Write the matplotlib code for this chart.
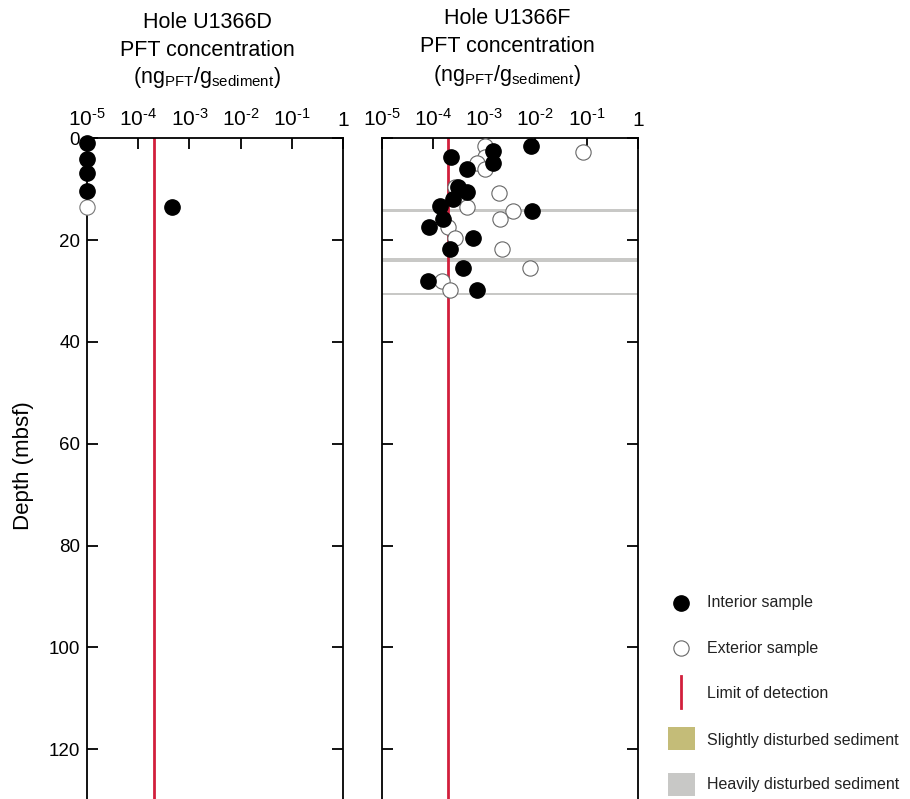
import matplotlib
matplotlib.use('Agg')
import matplotlib.pyplot as plt
from matplotlib.patches import Rectangle
import numpy as np

plt.rcParams['font.family'] = ['Liberation Sans', 'DejaVu Sans']
plt.rcParams['mathtext.fontset'] = 'custom'
plt.rcParams['mathtext.rm'] = 'Liberation Sans'
plt.rcParams['mathtext.it'] = 'Liberation Sans'

LOD = 2e-4
XMIN, XMAX = 1e-5, 1.0
YMAX = 129.8

# Hole U1366D
d_int_depth = [1.0, 4.1, 6.8, 10.3, 13.4]
d_int_conc = [1e-5, 1e-5, 1e-5, 1e-5, 4.5e-4]
d_ext_depth = [13.4]
d_ext_conc = [1e-5]

# Hole U1366F
f_int_depth = [1.5, 2.5, 3.6, 4.9, 6.0, 9.6, 10.6, 12.0, 13.3, 14.2, 15.9, 17.5,
               19.6, 21.8, 25.5, 28.0, 29.9]
f_int_conc = [8.1e-3, 1.5e-3, 2.26e-4, 1.5e-3, 4.7e-4, 3.1e-4, 4.7e-4, 2.5e-4,
              1.38e-4, 8.7e-3, 1.6e-4, 8.4e-5, 6.2e-4, 2.2e-4, 3.9e-4, 8.1e-5, 7.2e-4]
f_ext_depth = [1.45, 2.6, 3.6, 4.8, 6.0, 9.6, 10.7, 13.4, 14.2, 15.9, 17.5, 19.6,
               21.8, 25.5, 28.0, 29.9]
f_ext_conc = [1.05e-3, 8.7e-2, 1.05e-3, 7.4e-4, 1.05e-3, 2.7e-4, 1.95e-3, 4.7e-4,
              3.7e-3, 2.0e-3, 2.0e-4, 2.7e-4, 2.2e-3, 7.9e-3, 1.53e-4, 2.16e-4]

# heavily disturbed intervals (mbsf)
heavy_top = [13.8, 23.5, 30.3]
heavy_bot = [14.4, 24.4, 30.8]

xticks = [1e-5, 1e-4, 1e-3, 1e-2, 1e-1, 1]
xlabels = ['10$^{\\text{-}5}$', '10$^{\\text{-}4}$', '10$^{\\text{-}3}$',
           '10$^{\\text{-}2}$', '10$^{\\text{-}1}$', '1']
yticks = [0, 20, 40, 60, 80, 100, 120]

RED = '#d21f3c'
HEAVY = '#c8c8c6'
SLIGHT = '#c4bc78'

fig = plt.figure(figsize=(9.1, 7.99), dpi=100)
ax1 = fig.add_axes([87 / 910, 0, 256 / 910, 1 - 138.3 / 799])
ax2 = fig.add_axes([381.7 / 910, 0, 256 / 910, 1 - 138.3 / 799])


def style(ax, labels):
    ax.set_xscale('log')
    ax.set_xlim(XMIN, XMAX)
    ax.set_ylim(YMAX, 0)
    ax.set_xticks(xticks)
    ax.set_xticklabels(xlabels)
    ax.minorticks_off()
    ax.set_yticks(yticks)
    ax.xaxis.tick_top()
    ax.tick_params(axis='x', direction='in', length=8, width=1.3, labelsize=15, pad=6,
                   top=True, bottom=False)
    ax.tick_params(axis='y', direction='in', length=8, width=1.3, labelsize=13.5,
                   left=True, right=True, labelleft=labels, pad=5)
    for s in ['top', 'left', 'right']:
        ax.spines[s].set_linewidth(1.3)
    ax.spines['bottom'].set_visible(False)
    ax.axvline(LOD, color=RED, lw=2, zorder=2)


style(ax1, True)
style(ax2, False)

ax1.plot(d_ext_conc, d_ext_depth, 'o', ms=11, mfc='white', mec='#777777', mew=0.8,
         clip_on=False, zorder=4)
ax1.plot(d_int_conc, d_int_depth, 'o', ms=11, mfc='black', mec='black',
         clip_on=False, zorder=5)

for t, b in zip(heavy_top, heavy_bot):
    ax2.axhspan(t, b, color=HEAVY, lw=0, zorder=1)
ax2.plot(f_ext_conc, f_ext_depth, 'o', ms=11, mfc='white', mec='#666666', mew=0.8,
         clip_on=False, zorder=4)
ax2.plot(f_int_conc, f_int_depth, 'o', ms=11, mfc='black', mec='black',
         clip_on=False, zorder=5)

fig.text(23 / 910, 1 - 466 / 799, 'Depth (mbsf)', rotation=90, ha='center', va='center',
         fontsize=16)

unit = '(ng$_{\\mathrm{PFT}}$/g$_{\\mathrm{sediment}}$)'
for cx, ys in [(207, [22, 50, 78]), (507, [19, 47, 75])]:
    fig.text(cx / 910, 1 - ys[0] / 799, 'Hole U1366D' if cx < 300 else 'Hole U1366F',
             ha='center', va='center', fontsize=15.5)
    fig.text(cx / 910, 1 - ys[1] / 799, 'PFT concentration', ha='center', va='center',
             fontsize=15.5)
    fig.text(cx / 910, 1 - ys[2] / 799, unit, ha='center', va='center', fontsize=15.5)

# legend
lg = fig.add_axes([0, 0, 1, 1], facecolor='none')
lg.set_xlim(0, 910)
lg.set_ylim(799, 0)
lg.axis('off')
lg.plot([681], [603], 'o', ms=11, mfc='black', mec='black')
lg.plot([681], [648], 'o', ms=11, mfc='white', mec='#666666', mew=0.8)
lg.plot([681, 681], [676, 708], color=RED, lw=2)
lg.add_patch(Rectangle((668, 727), 27, 23, color=SLIGHT, lw=0))
lg.add_patch(Rectangle((668, 773), 27, 23, color=HEAVY, lw=0))
for y, txt in zip([603, 648, 693, 740, 785],
                  ['Interior sample', 'Exterior sample', 'Limit of detection',
                   'Slightly disturbed sediment', 'Heavily disturbed sediment']):
    lg.text(707, y, txt, ha='left', va='center', fontsize=11.5, color='#222222')

fig.savefig('out.png', dpi=100)
